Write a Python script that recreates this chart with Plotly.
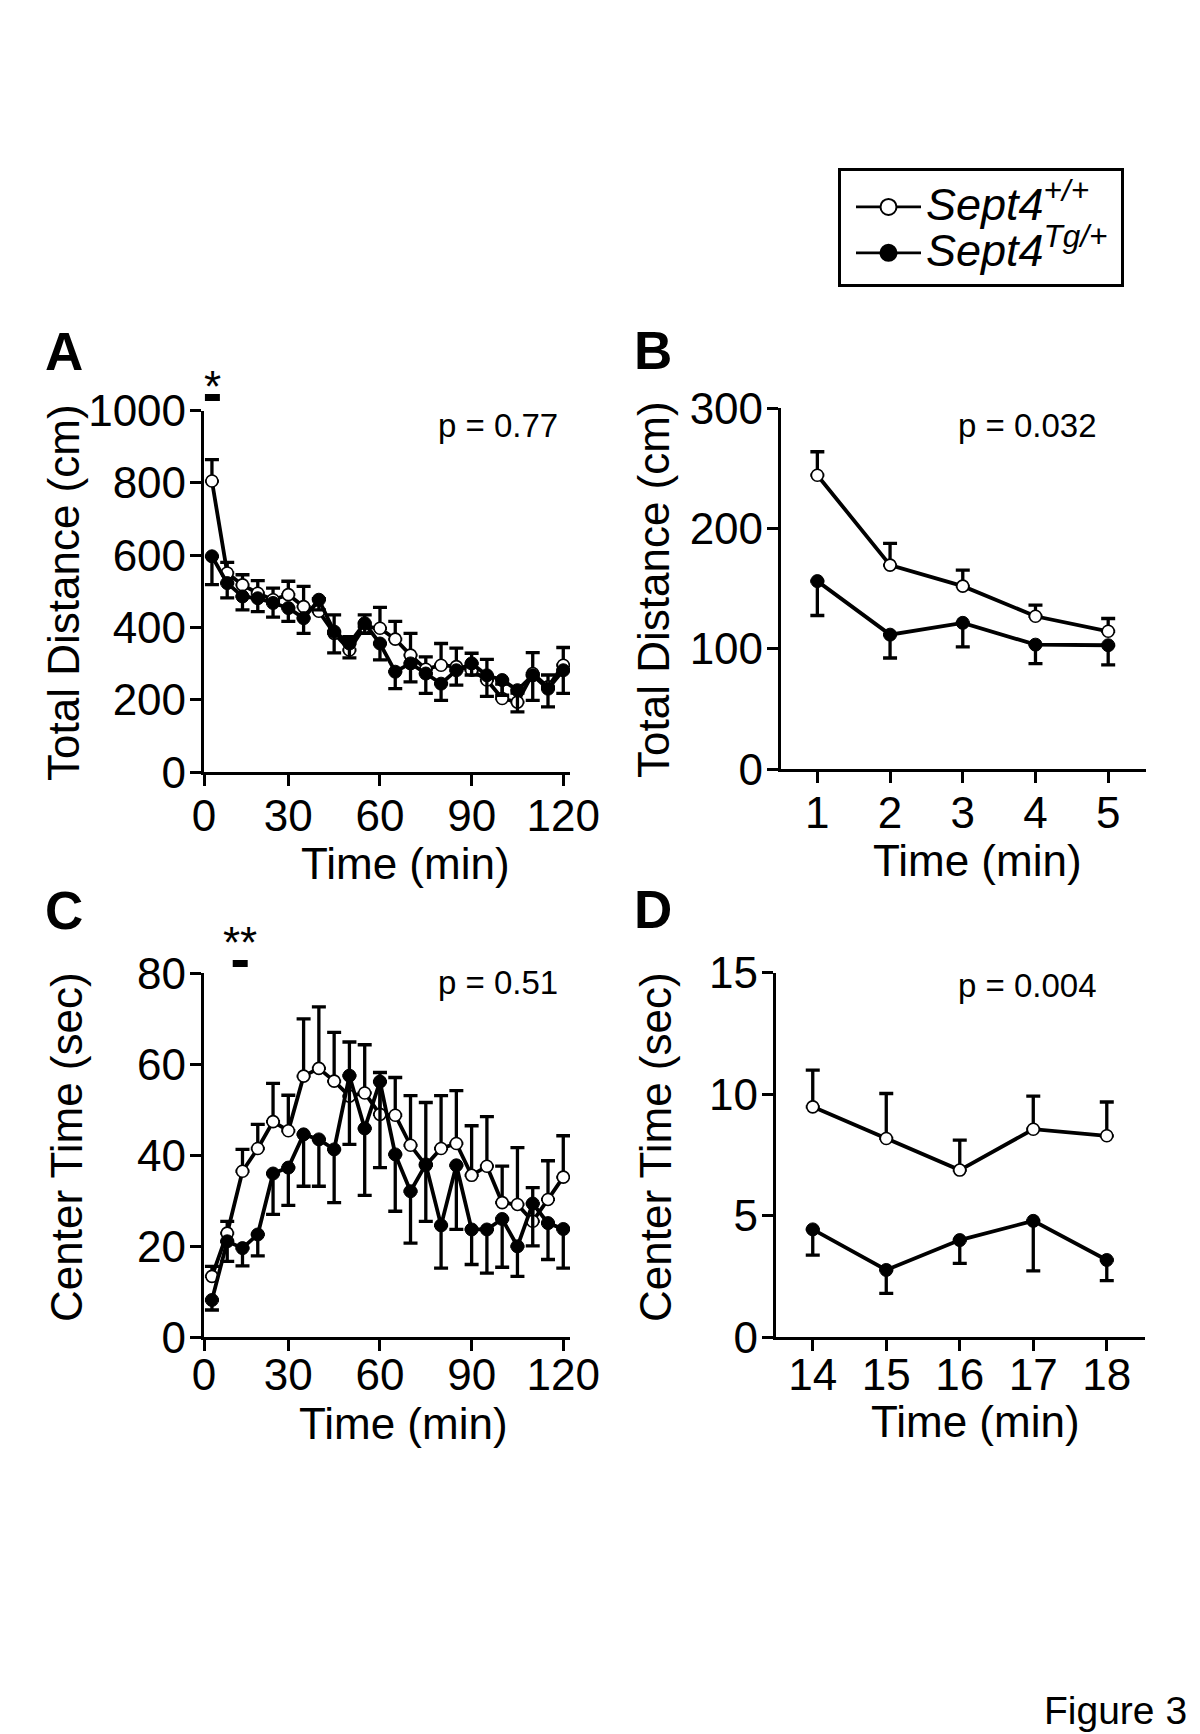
import plotly.graph_objects as go

W, H = 1200, 1734
FONT = "Liberation Sans, Arial, sans-serif"

# ---------------- data ----------------
TIME_AC = [5, 10, 15, 20, 25, 30, 35, 40, 45, 50, 55, 60,
           65, 70, 75, 80, 85, 90, 95, 100, 105, 110, 115, 120]
TICKS_AC = [2.4, 30, 60, 90, 120]
TICKTEXT_AC = ["0", "30", "60", "90", "120"]

WT_A = [805, 551, 518, 495, 477, 491, 458, 445, 384, 338, 403, 398,
        368, 324, 285, 296, 292, 282, 255, 204, 194, 273, 236, 296]
WT_A_ERR = [59, 29, 28, 35, 32, 37, 56, 35, 51, 37, 32, 58,
            49, 60, 34, 60, 51, 47, 57, 40, 25, 58, 33, 49]
TG_A = [597, 523, 486, 481, 468, 454, 426, 477, 389, 356, 412, 356,
        278, 301, 273, 245, 282, 301, 268, 255, 227, 268, 231, 282]
TG_A_ERR = [78, 41, 37, 37, 39, 37, 42, 28, 59, 40, 28, 45,
            47, 51, 55, 46, 41, 32, 58, 42, 60, 69, 50, 64]

WT_C = [13.4, 22.9, 36.5, 41.5, 47.4, 45.4, 57.4, 59.1, 56.3, 53.0, 53.7, 49.0,
        48.8, 42.2, 37.8, 41.5, 42.6, 35.6, 37.6, 29.6, 29.2, 25.5, 30.3, 35.2]
WT_C_ERR = [2.2, 2.6, 4.8, 5.3, 8.4, 7.8, 12.6, 13.5, 10.7, 11.9, 10.6, 9.2,
            8.3, 10.9, 13.8, 11.6, 11.6, 10.9, 10.9, 8.0, 12.5, 7.4, 8.5, 9.1]
TG_C = [8.2, 21.1, 19.6, 22.6, 36.0, 37.3, 44.6, 43.5, 41.3, 57.5, 45.9, 56.2,
        40.2, 32.1, 38.0, 24.6, 37.8, 23.7, 23.7, 26.0, 20.0, 29.4, 25.1, 23.8]
TG_C_ERR = [2.2, 4.4, 3.9, 4.7, 9.0, 8.3, 11.4, 10.3, 11.7, 15.1, 14.7, 18.9,
            12.5, 11.4, 12.5, 9.4, 14.1, 7.7, 9.6, 10.6, 6.6, 9.3, 8.0, 8.6]

TIME_B = [1, 2, 3, 4, 5]
WT_B = [244.4, 169.7, 152.2, 127.2, 114.7]
WT_B_ERR = [19.5, 18.1, 13.4, 9.2, 10.6]
TG_B = [156.4, 111.9, 121.7, 103.6, 103.1]
TG_B_ERR = [28.6, 19.4, 20.0, 15.8, 16.4]

TIME_D = [14, 15, 16, 17, 18]
WT_D = [9.48, 8.18, 6.88, 8.56, 8.29]
WT_D_ERR = [1.51, 1.85, 1.23, 1.36, 1.39]
TG_D = [4.44, 2.77, 4.00, 4.79, 3.18]
TG_D_ERR = [1.06, 0.96, 0.96, 2.06, 0.85]

P_VALUES = ["p = 0.77", "p = 0.032", "p = 0.51", "p = 0.004"]
# significance markers: time span of the bar and label
SIG_A = dict(x0=2.7, x1=7.6, label="*")
SIG_C = dict(x0=11.8, x1=16.7, label="**")

NAME_WT = "<i><span style='font-size:45px'>Sept4<sup>+/+</sup></span></i>"
NAME_TG = "<i><span style='font-size:45px'>Sept4<sup>Tg/+</sup></span></i>"

# ---------------- layout helpers ----------------
def px_x(p):
    return p / W


def px_y(p):
    return 1 - p / H


fig = go.Figure()

LW = 3.8
EW = 3.3


def add_pair(xs, wt, wt_err, tg, tg_err, xa, ya):
    fig.add_trace(go.Scatter(
        x=xs, y=wt, mode="lines+markers", name="Sept4+/+", showlegend=False,
        legendgroup="wt",
        line=dict(color="black", width=LW),
        marker=dict(symbol="circle", size=12, color="white",
                    line=dict(color="black", width=1.6)),
        error_y=dict(type="data", array=wt_err, arrayminus=[0] * len(wt_err),
                     symmetric=False, color="black", thickness=EW, width=7),
        xaxis=xa, yaxis=ya))
    fig.add_trace(go.Scatter(
        x=xs, y=tg, mode="lines+markers", name="Sept4Tg/+", showlegend=False,
        legendgroup="tg",
        line=dict(color="black", width=LW),
        marker=dict(symbol="circle", size=13, color="black",
                    line=dict(color="black", width=1)),
        error_y=dict(type="data", array=[0] * len(tg_err), arrayminus=tg_err,
                     symmetric=False, color="black", thickness=EW, width=7),
        xaxis=xa, yaxis=ya))


add_pair(TIME_AC, WT_A, WT_A_ERR, TG_A, TG_A_ERR, "x", "y")
add_pair(TIME_B, WT_B, WT_B_ERR, TG_B, TG_B_ERR, "x2", "y2")
add_pair(TIME_AC, WT_C, WT_C_ERR, TG_C, TG_C_ERR, "x3", "y3")
add_pair(TIME_D, WT_D, WT_D_ERR, TG_D, TG_D_ERR, "x4", "y4")

# legend entries (legend-only keys with the larger legend symbols)
fig.add_trace(go.Scatter(
    x=[None], y=[None], mode="lines+markers", name=NAME_WT, legendgroup="wt",
    legendrank=1, line=dict(color="black", width=2.7),
    marker=dict(symbol="circle", size=16, color="white", line=dict(color="black", width=2)),
    xaxis="x", yaxis="y"))
fig.add_trace(go.Scatter(
    x=[None], y=[None], mode="lines+markers", name=NAME_TG, legendgroup="tg",
    legendrank=2, line=dict(color="black", width=2.7),
    marker=dict(symbol="circle", size=16, color="black", line=dict(color="black", width=2)),
    xaxis="x", yaxis="y"))

tickfont = dict(family=FONT, size=44, color="black")
common_axis = dict(showline=True, linecolor="black", linewidth=3.3,
                   ticks="outside", ticklen=11, tickwidth=3.3, tickcolor="black",
                   showgrid=False, zeroline=False, tickfont=tickfont,
                   fixedrange=True, automargin=False)
XSO_TOP = -8    # x tick label standoff, top row
XSO_BOT = -14   # x tick label standoff, bottom row
YSO = -5        # y tick label standoff

layout = dict(
    width=W, height=H,
    margin=dict(l=0, r=0, t=0, b=0, pad=0, autoexpand=False),
    paper_bgcolor="white", plot_bgcolor="white",
    font=dict(family=FONT, color="black"),
    showlegend=True,
    legend=dict(x=px_x(851), y=px_y(179), xanchor="left", yanchor="top",
                borderwidth=0, bgcolor="rgba(0,0,0,0)",
                font=dict(family=FONT, size=33, color="black"),
                itemwidth=65, tracegroupgap=0, traceorder="normal",
                itemclick=False, itemdoubleclick=False),
)

# Panel A
layout["xaxis"] = dict(common_axis, domain=[px_x(204), px_x(570)], range=[2.4, 122.2],
                       tickvals=TICKS_AC, ticktext=TICKTEXT_AC, anchor="y",
                       ticklabelstandoff=XSO_TOP)
layout["yaxis"] = dict(common_axis, domain=[px_y(772.3), px_y(410.5)], range=[0, 1000],
                       tickvals=[0, 200, 400, 600, 800, 1000], anchor="x",
                       ticklabelstandoff=YSO)
# Panel B
layout["xaxis2"] = dict(common_axis, domain=[px_x(781), px_x(1146)], range=[0.5, 5.52],
                        tickvals=TIME_B, anchor="y2", ticklabelstandoff=XSO_TOP)
layout["yaxis2"] = dict(common_axis, domain=[px_y(769.3), px_y(408.3)], range=[0, 300],
                        tickvals=[0, 100, 200, 300], anchor="x2", ticklabelstandoff=YSO)
# Panel C
layout["xaxis3"] = dict(common_axis, domain=[px_x(204), px_x(570)], range=[2.4, 122.2],
                        tickvals=TICKS_AC, ticktext=TICKTEXT_AC, anchor="y3",
                        ticklabelstandoff=XSO_BOT)
layout["yaxis3"] = dict(common_axis, domain=[px_y(1337.3), px_y(973.3)], range=[0, 80],
                        tickvals=[0, 20, 40, 60, 80], anchor="x3", ticklabelstandoff=YSO)
# Panel D
layout["xaxis4"] = dict(common_axis, domain=[px_x(776), px_x(1145)], range=[13.5, 18.52],
                        tickvals=TIME_D, anchor="y4", ticklabelstandoff=XSO_BOT)
layout["yaxis4"] = dict(common_axis, domain=[px_y(1337.3), px_y(972.7)], range=[0, 15],
                        tickvals=[0, 5, 10, 15], anchor="x4", ticklabelstandoff=YSO)

fig.update_layout(**layout)

shapes = []
# legend frame
shapes.append(dict(type="rect", xref="paper", yref="paper",
                   x0=px_x(839.5), x1=px_x(1122.5), y0=px_y(285.5), y1=px_y(169.5),
                   line=dict(color="black", width=3), fillcolor="rgba(0,0,0,0)"))
# significance bars (x in data units of the time axis, y in page position)
for sig, xa, ytop, ybot in [(SIG_A, "x", 394, 401), (SIG_C, "x3", 960, 967)]:
    shapes.append(dict(type="rect", xref=xa, yref="paper",
                       x0=sig["x0"], x1=sig["x1"], y0=px_y(ybot), y1=px_y(ytop),
                       fillcolor="black", line=dict(width=0)))
fig.update_layout(shapes=shapes)

ann = []


def text(x, y, s, size, bold=False, angle=0, xanchor="center", yanchor="middle"):
    ann.append(dict(x=px_x(x), y=px_y(y), xref="paper", yref="paper", text=s,
                    showarrow=False, textangle=angle, xanchor=xanchor, yanchor=yanchor,
                    font=dict(family=FONT, size=size, color="black",
                              weight="bold" if bold else "normal")))


# panel letters
text(64, 352, "A", 53, bold=True)
text(653, 350, "B", 53, bold=True)
text(64, 910, "C", 53, bold=True)
text(653, 909, "D", 53, bold=True)

# axis titles
text(64, 593, "Total Distance (cm)", 44, angle=-90)
text(653, 590, "Total Distance (cm)", 44, angle=-90)
text(66, 1147, "Center Time (sec)", 44, angle=-90)
text(655, 1147, "Center Time (sec)", 44, angle=-90)
text(405, 863, "Time (min)", 44)
text(978, 860, "Time (min)", 44)
text(403, 1423, "Time (min)", 44)
text(975, 1421, "Time (min)", 44)

# p values
text(498, 425, P_VALUES[0], 33)
text(1027, 425, P_VALUES[1], 33)
text(498, 983, P_VALUES[2], 33)
text(1027, 985, P_VALUES[3], 33)

# asterisks above the significance bars
ann.append(dict(x=(SIG_A["x0"] + SIG_A["x1"]) / 2, y=px_y(360), xref="x", yref="paper",
                text=SIG_A["label"], showarrow=False,
                font=dict(family=FONT, size=44, color="black")))
ann.append(dict(x=(SIG_C["x0"] + SIG_C["x1"]) / 2, y=px_y(942), xref="x3", yref="paper",
                text=SIG_C["label"], showarrow=False,
                font=dict(family=FONT, size=44, color="black")))

# figure label
text(1189, 1734, "Figure 3", 39, xanchor="right", yanchor="bottom")

fig.update_layout(annotations=ann)

fig.write_html("out.html",
               config={"displayModeBar": False, "staticPlot": False},
               post_script="document.body.style.margin='0';"
                           "document.body.style.overflow='hidden';")
